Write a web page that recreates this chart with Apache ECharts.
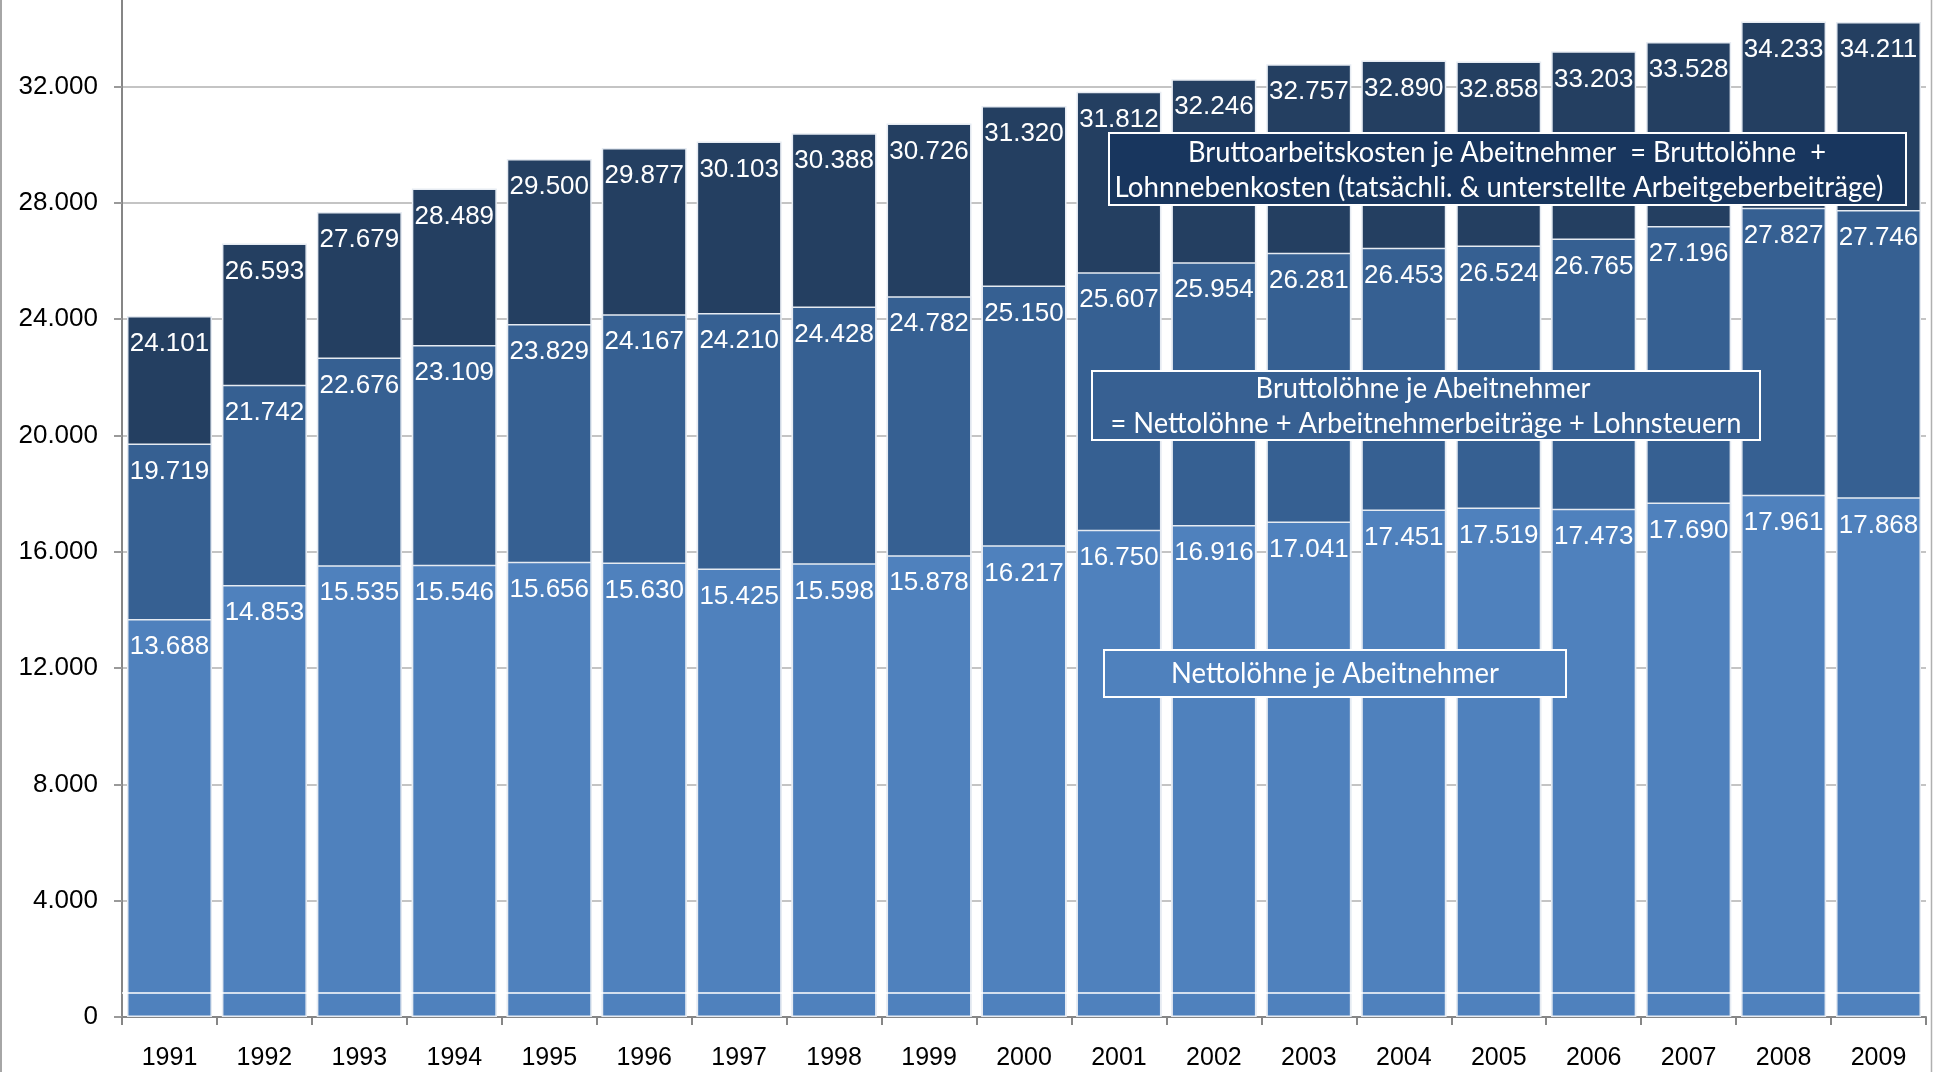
<!DOCTYPE html>
<html>
<head>
<meta charset="utf-8">
<script src="https://cdn.jsdelivr.net/npm/echarts@6/dist/echarts.min.js"></script>
<style>
  html, body { margin: 0; padding: 0; background: #ffffff; overflow: hidden; }
  #wrap { position: relative; width: 1937px; height: 1072px; overflow: hidden; }
  /* the plot runs up past the top edge: the 36.000 line sits just above the page */
  #chart { position: absolute; left: 0; top: -30px; width: 1937px; height: 1102px; }
</style>
</head>
<body>
<div id="wrap"><div id="chart"></div></div>
<script>
// Jahre
const years = ['1991','1992','1993','1994','1995','1996','1997','1998','1999','2000',
               '2001','2002','2003','2004','2005','2006','2007','2008','2009'];

// Bruttoarbeitskosten je Arbeitnehmer (Euro)
const bruttoArbeitskosten = [24101, 26593, 27679, 28489, 29500, 29877, 30103, 30388, 30726, 31320,
                             31812, 32246, 32757, 32890, 32858, 33203, 33528, 34233, 34211];

// Bruttolöhne je Arbeitnehmer (Euro)
const bruttoLoehne = [19719, 21742, 22676, 23109, 23829, 24167, 24210, 24428, 24782, 25150,
                      25607, 25954, 26281, 26453, 26524, 26765, 27196, 27827, 27746];

// Nettolöhne je Arbeitnehmer (Euro)
const nettoLoehne = [13688, 14853, 15535, 15546, 15656, 15630, 15425, 15598, 15878, 16217,
                     16750, 16916, 17041, 17451, 17519, 17473, 17690, 17961, 17868];

// Achsenskala
const yTicks = [0, 4000, 8000, 12000, 16000, 20000, 24000, 28000, 32000, 36000];
const baseLineValue = 850;

// Textfelder
const boxTexts = {
  kosten: ['Bruttoarbeitskosten je Abeitnehmer  = Bruttolöhne  +',
           'Lohnnebenkosten (tatsächli. & unterstellte Arbeitgeberbeiträge)'],
  brutto: ['Bruttolöhne je Abeitnehmer',
           '= Nettolöhne + Arbeitnehmerbeiträge + Lohnsteuern'],
  netto:  ['Nettolöhne je Abeitnehmer']
};

const fmt = v => String(v).replace(/\B(?=(\d{3})+(?!\d))/g, '.');

const COL_DARK = '#243f61';
const COL_MID = '#366092';
const COL_LIGHT = '#4f81bd';
const LABEL_FONT = '"Liberation Sans", Arial, sans-serif';
const BOX_FONT = 'Lato, "Open Sans", sans-serif';
const OFF = 30; // chart canvas starts 30px above the page

// Condense box text horizontally so each line fills its width
const measureCtx = document.createElement('canvas').getContext('2d');
function fitText(text, size, cx, cy, width) {
  const font = size + 'px ' + BOX_FONT;
  measureCtx.font = font;
  const w = measureCtx.measureText(text).width;
  return {
    type: 'text', x: cx, y: cy + OFF, scaleX: width / w, z: 101,
    style: { text: text, font: font, fill: '#ffffff', textAlign: 'center', textVerticalAlign: 'middle' }
  };
}
function box(x0, y0, x1, y1, fill) {
  return {
    type: 'rect', z: 100,
    shape: { x: x0, y: y0 + OFF, width: x1 - x0, height: y1 - y0 },
    style: { fill: fill, stroke: '#ffffff', lineWidth: 2 }
  };
}

const barLabel = {
  show: true, position: 'insideTop', distance: 15,
  color: '#ffffff', fontFamily: LABEL_FONT, fontSize: 26,
  formatter: p => fmt(p.value)
};
const barBorder = { borderColor: '#e6ebf2', borderWidth: 1.5 };

const chart = echarts.init(document.getElementById('chart'), null, { renderer: 'canvas' });
chart.setOption({
  animation: false,
  backgroundColor: '#ffffff',
  grid: { left: 122, right: 11, top: 0, bottom: 55, containLabel: false, outerBoundsMode: 'none' },
  xAxis: {
    type: 'category', data: years,
    axisLine: { lineStyle: { color: '#868686', width: 2 } },
    axisTick: { show: true, length: 8, lineStyle: { color: '#868686', width: 2 } },
    axisLabel: { color: '#000000', fontFamily: LABEL_FONT, fontSize: 25, margin: 29 }
  },
  yAxis: {
    type: 'value', min: yTicks[0], max: yTicks[yTicks.length - 1], interval: yTicks[1] - yTicks[0],
    axisLine: { show: true, lineStyle: { color: '#868686', width: 2 } },
    axisTick: { show: true, length: 8, lineStyle: { color: '#9a9a9a', width: 2 } },
    axisLabel: { color: '#000000', fontFamily: LABEL_FONT, fontSize: 26, margin: 24, formatter: v => fmt(v) },
    splitLine: { show: true, lineStyle: { color: '#c4c4c4', width: 2 } }
  },
  series: [
    {
      name: 'Bruttoarbeitskosten', type: 'bar', data: bruttoArbeitskosten,
      barGap: '-100%', barCategoryGap: '10.5%',
      itemStyle: Object.assign({ color: COL_DARK }, barBorder), label: barLabel
    },
    {
      name: 'Bruttolöhne', type: 'bar', data: bruttoLoehne,
      barGap: '-100%', barCategoryGap: '10.5%',
      itemStyle: Object.assign({ color: COL_MID }, barBorder), label: barLabel
    },
    {
      name: 'Nettolöhne', type: 'bar', data: nettoLoehne,
      barGap: '-100%', barCategoryGap: '10.5%',
      itemStyle: Object.assign({ color: COL_LIGHT }, barBorder), label: barLabel,
      markLine: {
        silent: true, symbol: 'none', label: { show: false },
        lineStyle: { color: '#ffffff', width: 1.5, type: 'solid' },
        data: [{ yAxis: baseLineValue }]
      }
    }
  ],
  graphic: [
    // Rahmenlinien
    { type: 'line', z: 50, shape: { x1: 1, y1: 0, x2: 1, y2: 1102 }, style: { stroke: '#a6a6a6', lineWidth: 2 } },
    { type: 'line', z: 50, shape: { x1: 1931.5, y1: 0, x2: 1931.5, y2: 1102 }, style: { stroke: '#b0b0b0', lineWidth: 1.5 } },
    // Bruttoarbeitskosten
    box(1109, 133, 1906, 205, '#18365e'),
    fitText(boxTexts.kosten[0], 28, 1507, 152.5, 638),
    fitText(boxTexts.kosten[1], 28, 1499, 187.5, 769),
    // Bruttolöhne
    box(1092, 371, 1760, 440, '#376092'),
    fitText(boxTexts.brutto[0], 28, 1423, 389, 335),
    fitText(boxTexts.brutto[1], 28, 1426, 424, 631),
    // Nettolöhne
    box(1104, 650, 1566, 697, '#4f81bd'),
    fitText(boxTexts.netto[0], 28, 1335, 673.5, 328)
  ]
});
</script>
</body>
</html>
